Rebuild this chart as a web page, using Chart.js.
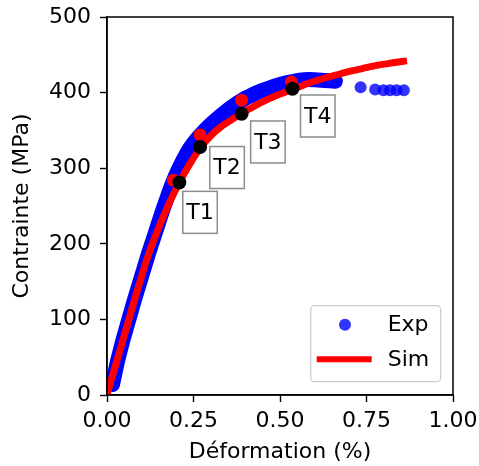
<!DOCTYPE html>
<html><head><meta charset="utf-8">
<script src="https://cdn.jsdelivr.net/npm/chart.js@4/dist/chart.umd.min.js"></script>
<style>html,body{margin:0;padding:0;background:#fff;overflow:hidden;}canvas{display:block;}</style>
</head><body>
<canvas id="c" width="479" height="466"></canvas>
<script>
// ---- data ----
const xTickValues = [0, 0.25, 0.5, 0.75, 1.0];
const yTickValues = [0, 100, 200, 300, 400, 500];
const seriesNames = ['Exp', 'Sim'];
const xTitle = 'Déformation (%)';
const yTitle = 'Contrainte (MPa)';

// experimental: dense band (many overlapping points) and sparse tail
const expBandStrain = [0.016, 0.023, 0.03, 0.04, 0.05, 0.06, 0.07, 0.08, 0.09, 0.10, 0.11, 0.12, 0.13, 0.14, 0.15, 0.16, 0.17, 0.18, 0.19, 0.20, 0.22, 0.24, 0.26, 0.28, 0.30, 0.33, 0.36, 0.39, 0.42, 0.45, 0.48, 0.51, 0.54, 0.57, 0.60, 0.63, 0.66];
const expBandStress = [14, 29, 44, 62, 79, 95, 111, 127, 142, 157, 172, 187, 201, 215, 229, 243, 256, 269, 281, 292, 311, 327, 339, 349, 358, 370, 381, 390, 397, 403, 408, 412, 415, 417, 417, 416, 415];
const expTailStrain = [0.733, 0.775, 0.799, 0.818, 0.837, 0.858];
const expTailStress = [407, 404, 403, 403, 403, 403];

// simulation
const simStrain = [0, 0.02, 0.04, 0.06, 0.09, 0.12, 0.15, 0.18, 0.21, 0.24, 0.27, 0.30, 0.33, 0.36, 0.39, 0.43, 0.46, 0.50, 0.54, 0.58, 0.62, 0.66, 0.70, 0.74, 0.78, 0.82, 0.867];
const simStress = [0, 32, 63, 95, 142, 186, 222, 254, 282, 306, 327, 343, 355, 364, 373, 383, 390, 398, 405, 412, 418, 423, 428, 432, 436, 439, 442];

// marked states T1..T4
const tNames = ['T1', 'T2', 'T3', 'T4'];
const tSimStrain = [0.209, 0.269, 0.389, 0.536];
const tSimStress = [281, 328, 372, 405];
const tExpStrain = [0.192, 0.269, 0.389, 0.533];
const tExpStress = [284, 344, 390, 414];

// ---- styling / layout ----
const FONT = "'DejaVu Sans', 'Liberation Sans', sans-serif";
const FS = 22;
const BLUE = 'rgb(0,0,255)';
const BLUE_A = 'rgba(0,0,255,0.8)';
const RED = 'rgb(255,0,0)';
const labelBoxOffsets = [[20.7, 29.8], [27, 20.5], [26.3, 28.2], [25.3, 27.2]];

const pts = (xs, ys) => xs.map((x, i) => ({x, y: ys[i]}));

const frameAndLabels = {
  id: 'frameAndLabels',
  afterDatasetsDraw(chart) {
    const ctx = chart.ctx;
    const xs = chart.scales.x, ys = chart.scales.y;
    ctx.save();
    ctx.font = FS + 'px ' + FONT;
    ctx.textAlign = 'center';
    ctx.textBaseline = 'middle';
    tNames.forEach((name, i) => {
      const px = xs.getPixelForValue(tSimStrain[i]);
      const py = ys.getPixelForValue(tSimStress[i]);
      const cx = px + labelBoxOffsets[i][0], cy = py + labelBoxOffsets[i][1];
      const w = 34.5, h = 42;
      ctx.fillStyle = 'rgba(255,255,255,0.9)';
      ctx.fillRect(cx - w / 2, cy - h / 2, w, h);
      ctx.strokeStyle = 'rgb(140,140,140)';
      ctx.lineWidth = 1.5;
      ctx.strokeRect(cx - w / 2, cy - h / 2, w, h);
      ctx.fillStyle = '#000';
      ctx.fillText(name, cx, cy + 1);
    });
    ctx.restore();
  },
  afterDraw(chart) {
    const ctx = chart.ctx;
    const a = chart.chartArea;
    ctx.save();
    ctx.strokeStyle = '#000';
    ctx.lineWidth = 1.5;
    ctx.strokeRect(a.left, a.top, a.right - a.left, a.bottom - a.top);
    // legend
    const bw = 130, bh = 76;
    const bx = a.right - 12.3 - bw, by = a.bottom - 13.3 - bh;
    ctx.beginPath();
    if (ctx.roundRect) ctx.roundRect(bx, by, bw, bh, 4); else ctx.rect(bx, by, bw, bh);
    ctx.fillStyle = 'rgba(255,255,255,0.8)';
    ctx.fill();
    ctx.strokeStyle = 'rgb(204,204,204)';
    ctx.lineWidth = 1.2;
    ctx.stroke();
    ctx.beginPath();
    ctx.arc(bx + 34.3, by + 19, 6, 0, Math.PI * 2);
    ctx.fillStyle = BLUE_A;
    ctx.fill();
    ctx.beginPath();
    ctx.moveTo(bx + 6, by + 53.5);
    ctx.lineTo(bx + 61, by + 53.5);
    ctx.strokeStyle = RED;
    ctx.lineWidth = 6;
    ctx.stroke();
    ctx.fillStyle = '#000';
    ctx.font = FS + 'px ' + FONT;
    ctx.textAlign = 'left';
    ctx.textBaseline = 'middle';
    ctx.fillText(seriesNames[0], bx + 77, by + 20);
    ctx.fillText(seriesNames[1], bx + 77, by + 55);
    ctx.restore();
  }
};

const zeroPad = s => { s.paddingLeft = 0; s.paddingRight = 0; s.paddingTop = 0; s.paddingBottom = 0; };

new Chart(document.getElementById('c'), {
  type: 'scatter',
  data: {
    datasets: [
      { label: seriesNames[0], data: pts(expBandStrain, expBandStress), showLine: true,
        borderColor: BLUE, borderWidth: 15, borderCapStyle: 'round', borderJoinStyle: 'round',
        pointRadius: 0, tension: 0.3, order: 4 },
      { label: seriesNames[0] + ' tail', data: pts(expTailStrain, expTailStress), showLine: false,
        backgroundColor: BLUE_A, borderWidth: 0, pointRadius: 6, order: 4 },
      { label: seriesNames[1], data: pts(simStrain, simStress), showLine: true,
        borderColor: RED, borderWidth: 7, borderCapStyle: 'butt', borderJoinStyle: 'round',
        pointRadius: 0, tension: 0.3, order: 3 },
      { label: 'T exp', data: pts(tExpStrain, tExpStress), showLine: false,
        backgroundColor: RED, borderWidth: 0, pointRadius: 6.5, order: 2 },
      { label: 'T sim', data: pts(tSimStrain, tSimStress), showLine: false,
        backgroundColor: '#000', borderWidth: 0, pointRadius: 7, order: 1 }
    ]
  },
  options: {
    responsive: false,
    animation: false,
    devicePixelRatio: 1,
    layout: { padding: { top: 17, right: 26, left: 0, bottom: 0 } },
    plugins: { legend: { display: false }, tooltip: { enabled: false } },
    scales: {
      x: {
        type: 'linear', min: 0, max: 1,
        afterBuildTicks: s => { s.ticks = xTickValues.map(v => ({value: v})); },
        afterFit: s => { s.height = 71; zeroPad(s); },
        ticks: { color: '#000', font: { family: FONT, size: FS }, padding: 6,
                 callback: v => Number(v).toFixed(2), maxRotation: 0, autoSkip: false },
        grid: { display: true, drawOnChartArea: false, drawTicks: true, tickLength: 7, tickColor: '#000', tickWidth: 1.4 },
        border: { display: true, color: '#000', width: 1.5 },
        title: { display: true, text: xTitle, color: '#000', font: { family: FONT, size: FS }, padding: { top: 0, bottom: 1 } }
      },
      y: {
        type: 'linear', min: 0, max: 500,
        afterBuildTicks: s => { s.ticks = yTickValues.map(v => ({value: v})); },
        afterFit: s => { s.width = 107; zeroPad(s); },
        ticks: { color: '#000', font: { family: FONT, size: FS }, padding: 9, autoSkip: false,
                 callback: v => String(v) },
        grid: { display: true, drawOnChartArea: false, drawTicks: true, tickLength: 7, tickColor: '#000', tickWidth: 1.4 },
        border: { display: true, color: '#000', width: 1.5 },
        title: { display: true, text: yTitle, color: '#000', font: { family: FONT, size: FS }, padding: { top: 9, bottom: 0 } }
      }
    }
  },
  plugins: [frameAndLabels]
});
</script>
</body></html>
